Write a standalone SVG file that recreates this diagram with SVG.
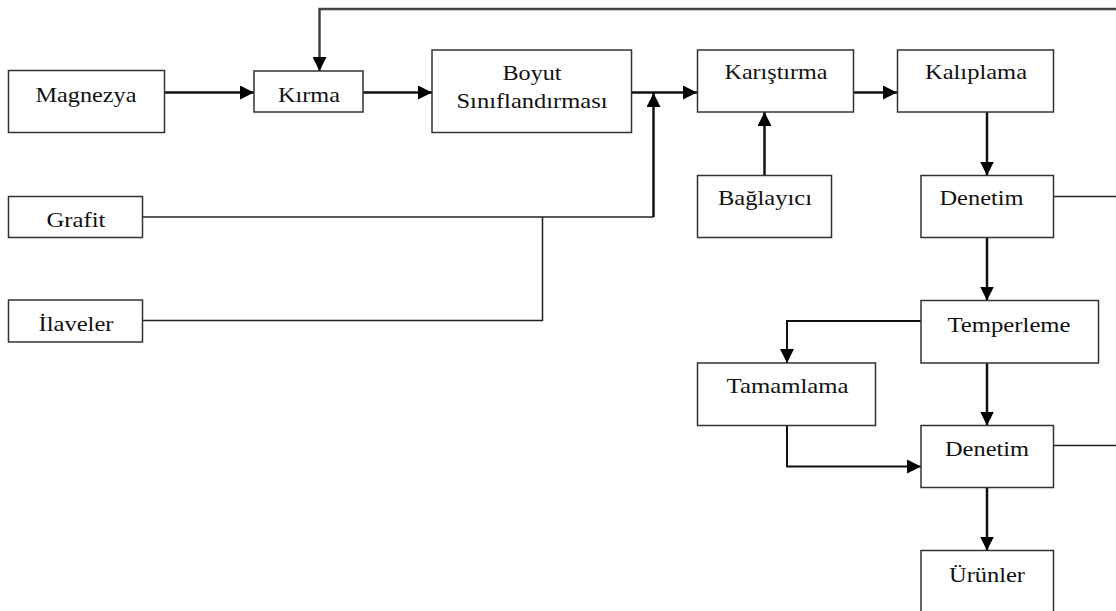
<svg xmlns="http://www.w3.org/2000/svg" width="1116" height="611" viewBox="0 0 1116 611">
<defs>
<marker id="ah" viewBox="0 0 14 14" refX="14" refY="7" markerWidth="14" markerHeight="14" markerUnits="userSpaceOnUse" orient="auto">
<path d="M0,0 L14,7 L0,14 z" fill="#000"/>
</marker>
</defs>
<style>
.box{fill:#fff;stroke:#333;stroke-width:1.5}
.t{font-family:"Liberation Serif","Times New Roman",serif;font-size:21px;fill:#111;text-anchor:middle}
.a{fill:none;stroke:#111;stroke-width:2.5;marker-end:url(#ah)}
.l{fill:none;stroke:#222;stroke-width:1.5}
</style>
<rect width="1116" height="611" fill="#fff"/>
<g id="connectors">
<path class="a" d="M165,92.5 H254"/>
<path class="a" d="M363,92.5 H432"/>
<path class="a" d="M631,92.5 H697"/>
<path class="a" d="M853,92.5 H897"/>
<path class="a" d="M1116,9 H319.5 V71" style="stroke:#444"/>
<path class="l" d="M142,217 H653.5"/>
<path class="a" d="M653.5,217 V93"/>
<path class="l" d="M142,320.5 H542.5 V217"/>
<path class="a" d="M764.5,175.5 V112"/>
<path class="a" d="M987,112 V175.5"/>
<path class="l" d="M1053,196.5 H1116"/>
<path class="a" d="M987,237.5 V300.5"/>
<path class="a" d="M921,321 H787 V363" style="stroke-width:2"/>
<path class="a" d="M987,363 V425.5"/>
<path class="a" d="M787,425.5 V466.5 H921" style="stroke-width:2"/>
<path class="l" d="M1053,445.5 H1116"/>
<path class="a" d="M987,487.5 V550.5"/>
</g>
<g id="magnezya"><rect class="box" x="8.5" y="70.5" width="156" height="62"/><text class="t" x="86" y="102.3" textLength="101" lengthAdjust="spacingAndGlyphs">Magnezya</text></g>
<g id="kirma"><rect class="box" x="254" y="71" width="109" height="41"/><text class="t" x="309" y="101.7" textLength="62" lengthAdjust="spacingAndGlyphs">Kırma</text></g>
<g id="boyut"><rect class="box" x="432" y="50" width="199.5" height="82.5"/><text class="t" x="532" y="80" textLength="59" lengthAdjust="spacingAndGlyphs">Boyut</text><text class="t" x="532" y="107.7" textLength="151" lengthAdjust="spacingAndGlyphs">Sınıflandırması</text></g>
<g id="karistirma"><rect class="box" x="697.5" y="50" width="156" height="62"/><text class="t" x="776" y="79.3" textLength="103" lengthAdjust="spacingAndGlyphs">Karıştırma</text></g>
<g id="kaliplama"><rect class="box" x="897.5" y="50" width="156" height="62"/><text class="t" x="976" y="79.3" textLength="102" lengthAdjust="spacingAndGlyphs">Kalıplama</text></g>
<g id="grafit"><rect class="box" x="8.5" y="196.5" width="134" height="41"/><text class="t" x="76" y="226.7" textLength="59" lengthAdjust="spacingAndGlyphs">Grafit</text></g>
<g id="ilaveler"><rect class="box" x="8.5" y="300" width="134" height="42"/><text class="t" x="76" y="330.7" textLength="75" lengthAdjust="spacingAndGlyphs">İlaveler</text></g>
<g id="baglayici"><rect class="box" x="697.5" y="175.5" width="134" height="62"/><text class="t" x="765" y="205" textLength="94" lengthAdjust="spacingAndGlyphs">Bağlayıcı</text></g>
<g id="denetim1"><rect class="box" x="921" y="175.5" width="132.5" height="62"/><text class="t" x="981.5" y="205" textLength="84" lengthAdjust="spacingAndGlyphs">Denetim</text></g>
<g id="temperleme"><rect class="box" x="921" y="300.5" width="177.5" height="62.5"/><text class="t" x="1009" y="331.7" textLength="123" lengthAdjust="spacingAndGlyphs">Temperleme</text></g>
<g id="tamamlama"><rect class="box" x="697.5" y="363" width="178" height="62.5"/><text class="t" x="787.5" y="393.3" textLength="122" lengthAdjust="spacingAndGlyphs">Tamamlama</text></g>
<g id="denetim2"><rect class="box" x="921" y="425.5" width="132.5" height="62"/><text class="t" x="987" y="456" textLength="84" lengthAdjust="spacingAndGlyphs">Denetim</text></g>
<g id="urunler"><rect class="box" x="921" y="550.5" width="132.5" height="70"/><text class="t" x="987" y="581.7" textLength="76" lengthAdjust="spacingAndGlyphs">Ürünler</text></g>
</svg>
